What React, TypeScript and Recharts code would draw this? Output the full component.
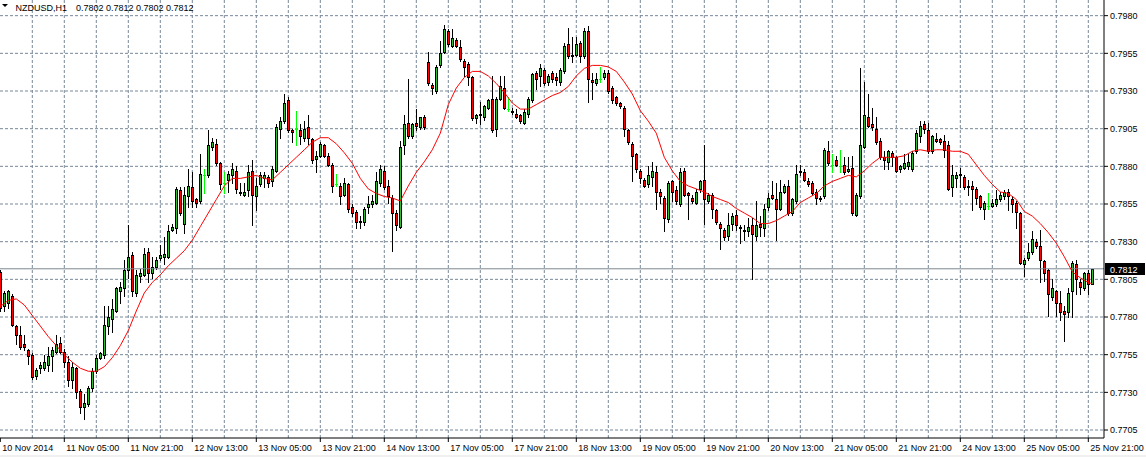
import React from "react";
import {
  ComposedChart,
  Bar,
  Line,
  XAxis,
  YAxis,
  CartesianGrid,
  ReferenceLine,
} from "recharts";

const SYMBOL = "NZDUSD,H1";

// hourly bars, 10 Nov 13:00 -> 25 Nov 22:00 (server time), 10 per row
const opens = [
  0.7810, 0.7787, 0.7789, 0.7794, 0.7774, 0.7768, 0.7762, 0.7758, 0.7755, 0.7741,
  0.7746, 0.7746, 0.7748, 0.7754, 0.7757, 0.7763, 0.7757, 0.7750, 0.7738, 0.7746,
  0.7731, 0.7720, 0.7722, 0.7733, 0.7744, 0.7753, 0.7755, 0.7774, 0.7779, 0.7784,
  0.7797, 0.7799, 0.7811, 0.7821, 0.7796, 0.7807, 0.7808, 0.7823, 0.7809, 0.7813,
  0.7819, 0.7820, 0.7820, 0.7838, 0.7839, 0.7864, 0.7842, 0.7860, 0.7866, 0.7858,
  0.7857, 0.7874, 0.7874, 0.7893, 0.7895, 0.7882, 0.7869, 0.7871, 0.7874, 0.7877,
  0.7863, 0.7861, 0.7864, 0.7877, 0.7860, 0.7868, 0.7872, 0.7873, 0.7870, 0.7877,
  0.7905, 0.7910, 0.7924, 0.7904, 0.7905, 0.7904, 0.7899, 0.7906, 0.7898, 0.7885,
  0.7887, 0.7894, 0.7887, 0.7881, 0.7868, 0.7867, 0.7861, 0.7868, 0.7853, 0.7850,
  0.7843, 0.7843, 0.7853, 0.7855, 0.7856, 0.7869, 0.7877, 0.7867, 0.7859, 0.7849,
  0.7840, 0.7894, 0.7909, 0.7900, 0.7909, 0.7906, 0.7913, 0.7949, 0.7934, 0.7930,
  0.7947, 0.7956, 0.7970, 0.7960, 0.7964, 0.7959, 0.7950, 0.7948, 0.7939, 0.7912,
  0.7914, 0.7913, 0.7919, 0.7925, 0.7905, 0.7925, 0.7932, 0.7918, 0.7917, 0.7915,
  0.7914, 0.7909, 0.7915, 0.7924, 0.7942, 0.7940, 0.7944, 0.7936, 0.7942, 0.7939,
  0.7936, 0.7943, 0.7961, 0.7953, 0.7954, 0.7962, 0.7953, 0.7970, 0.7937, 0.7935,
  0.7938, 0.7939, 0.7942, 0.7932, 0.7926, 0.7922, 0.7919, 0.7904, 0.7895, 0.7888,
  0.7877, 0.7871, 0.7868, 0.7873, 0.7876, 0.7863, 0.7859, 0.7845, 0.7870, 0.7864,
  0.7855, 0.7877, 0.7862, 0.7859, 0.7856, 0.7865, 0.7871, 0.7857, 0.7861, 0.7851,
  0.7842, 0.7838, 0.7834, 0.7842, 0.7848, 0.7840, 0.7838, 0.7837, 0.7841, 0.7834,
  0.7842, 0.7839, 0.7853, 0.7861, 0.7858, 0.7852, 0.7863, 0.7867, 0.7849, 0.7857,
  0.7877, 0.7876, 0.7870, 0.7869, 0.7863, 0.7858, 0.7860, 0.7890, 0.7881, 0.7884,
  0.7880, 0.7881, 0.7877, 0.7879, 0.7848, 0.7860, 0.7893, 0.7913, 0.7908, 0.7905,
  0.7897, 0.7886, 0.7883, 0.7889, 0.7886, 0.7878, 0.7879, 0.7880, 0.7878, 0.7890,
  0.7900, 0.7908, 0.7904, 0.7890, 0.7898, 0.7898, 0.7897, 0.7894, 0.7866, 0.7872,
  0.7875, 0.7873, 0.7867, 0.7867, 0.7865, 0.7860, 0.7852, 0.7854, 0.7854, 0.7855,
  0.7858, 0.7860, 0.7863, 0.7858, 0.7856, 0.7849, 0.7815, 0.7819, 0.7823, 0.7830,
  0.7827, 0.7817, 0.7811, 0.7793, 0.7797, 0.7789, 0.7784, 0.7783, 0.7797, 0.7815,
  0.7803, 0.7799, 0.7809, 0.7802,
];

const highs = [
  0.7811, 0.7797, 0.7798, 0.7795, 0.7775, 0.7774, 0.7768, 0.7759, 0.7756, 0.7746,
  0.7750, 0.7755, 0.7760, 0.7760, 0.7768, 0.7767, 0.7759, 0.7754, 0.7750, 0.7747,
  0.7732, 0.7729, 0.7734, 0.7746, 0.7755, 0.7757, 0.7787, 0.7787, 0.7792, 0.7800,
  0.7803, 0.7818, 0.7841, 0.7823, 0.7811, 0.7812, 0.7826, 0.7826, 0.7820, 0.7820,
  0.7828, 0.7833, 0.7841, 0.7842, 0.7866, 0.7866, 0.7866, 0.7878, 0.7876, 0.7859,
  0.7888, 0.7878, 0.7904, 0.7899, 0.7898, 0.7883, 0.7876, 0.7877, 0.7882, 0.7880,
  0.7869, 0.7869, 0.7881, 0.7884, 0.7872, 0.7876, 0.7876, 0.7874, 0.7880, 0.7908,
  0.7913, 0.7928, 0.7926, 0.7905, 0.7917, 0.7908, 0.7910, 0.7914, 0.7899, 0.7890,
  0.7896, 0.7895, 0.7889, 0.7882, 0.7875, 0.7869, 0.7872, 0.7869, 0.7855, 0.7851,
  0.7847, 0.7853, 0.7860, 0.7861, 0.7876, 0.7881, 0.7880, 0.7871, 0.7861, 0.7851,
  0.7897, 0.7914, 0.7938, 0.7909, 0.7918, 0.7913, 0.7914, 0.7956, 0.7935, 0.7947,
  0.7963, 0.7974, 0.7971, 0.7971, 0.7965, 0.7964, 0.7951, 0.7949, 0.7940, 0.7915,
  0.7923, 0.7921, 0.7925, 0.7940, 0.7926, 0.7940, 0.7940, 0.7926, 0.7919, 0.7918,
  0.7915, 0.7918, 0.7926, 0.7942, 0.7943, 0.7948, 0.7945, 0.7941, 0.7943, 0.7942,
  0.7945, 0.7962, 0.7972, 0.7966, 0.7966, 0.7963, 0.7972, 0.7973, 0.7942, 0.7942,
  0.7946, 0.7944, 0.7944, 0.7933, 0.7927, 0.7923, 0.7920, 0.7905, 0.7896, 0.7889,
  0.7878, 0.7872, 0.7880, 0.7883, 0.7880, 0.7865, 0.7860, 0.7870, 0.7871, 0.7867,
  0.7879, 0.7879, 0.7863, 0.7861, 0.7865, 0.7871, 0.7894, 0.7862, 0.7862, 0.7852,
  0.7843, 0.7839, 0.7849, 0.7849, 0.7851, 0.7841, 0.7841, 0.7846, 0.7846, 0.7857,
  0.7847, 0.7855, 0.7862, 0.7870, 0.7869, 0.7871, 0.7868, 0.7871, 0.7859, 0.7881,
  0.7881, 0.7878, 0.7872, 0.7870, 0.7865, 0.7860, 0.7892, 0.7897, 0.7888, 0.7887,
  0.7891, 0.7886, 0.7886, 0.7887, 0.7862, 0.7945, 0.7936, 0.7928, 0.7919, 0.7913,
  0.7899, 0.7890, 0.7891, 0.7890, 0.7887, 0.7881, 0.7888, 0.7888, 0.7890, 0.7904,
  0.7910, 0.7910, 0.7909, 0.7901, 0.7902, 0.7899, 0.7901, 0.7897, 0.7881, 0.7876,
  0.7879, 0.7874, 0.7871, 0.7870, 0.7866, 0.7861, 0.7857, 0.7862, 0.7858, 0.7864,
  0.7863, 0.7864, 0.7865, 0.7860, 0.7857, 0.7850, 0.7819, 0.7829, 0.7837, 0.7832,
  0.7838, 0.7818, 0.7812, 0.7805, 0.7798, 0.7797, 0.7787, 0.7799, 0.7817, 0.7818,
  0.7805, 0.7810, 0.7811, 0.7812,
];

const lows = [
  0.7784, 0.7784, 0.7786, 0.7774, 0.7762, 0.7759, 0.7758, 0.7749, 0.7739, 0.7739,
  0.7743, 0.7745, 0.7744, 0.7744, 0.7756, 0.7756, 0.7747, 0.7734, 0.7733, 0.7726,
  0.7716, 0.7712, 0.7721, 0.7731, 0.7743, 0.7752, 0.7753, 0.7769, 0.7770, 0.7783,
  0.7789, 0.7794, 0.7806, 0.7794, 0.7794, 0.7803, 0.7807, 0.7803, 0.7806, 0.7812,
  0.7818, 0.7815, 0.7819, 0.7837, 0.7836, 0.7848, 0.7836, 0.7853, 0.7853, 0.7853,
  0.7856, 0.7862, 0.7873, 0.7891, 0.7881, 0.7865, 0.7862, 0.7863, 0.7869, 0.7862,
  0.7861, 0.7860, 0.7860, 0.7841, 0.7851, 0.7867, 0.7866, 0.7866, 0.7867, 0.7876,
  0.7899, 0.7909, 0.7903, 0.7896, 0.7894, 0.7895, 0.7897, 0.7895, 0.7882, 0.7876,
  0.7886, 0.7886, 0.7880, 0.7863, 0.7867, 0.7855, 0.7860, 0.7850, 0.7847, 0.7839,
  0.7839, 0.7841, 0.7849, 0.7853, 0.7855, 0.7867, 0.7865, 0.7856, 0.7824, 0.7838,
  0.7839, 0.7888, 0.7899, 0.7899, 0.7904, 0.7905, 0.7905, 0.7934, 0.7928, 0.7929,
  0.7946, 0.7955, 0.7960, 0.7959, 0.7959, 0.7950, 0.7940, 0.7934, 0.7911, 0.7909,
  0.7908, 0.7911, 0.7918, 0.7903, 0.7900, 0.7924, 0.7918, 0.7917, 0.7915, 0.7912,
  0.7909, 0.7908, 0.7913, 0.7923, 0.7931, 0.7933, 0.7934, 0.7934, 0.7936, 0.7934,
  0.7934, 0.7942, 0.7952, 0.7949, 0.7953, 0.7949, 0.7952, 0.7923, 0.7925, 0.7934,
  0.7936, 0.7938, 0.7929, 0.7922, 0.7921, 0.7919, 0.7900, 0.7895, 0.7870, 0.7876,
  0.7869, 0.7866, 0.7866, 0.7867, 0.7852, 0.7856, 0.7837, 0.7843, 0.7857, 0.7855,
  0.7854, 0.7860, 0.7845, 0.7856, 0.7855, 0.7863, 0.7842, 0.7856, 0.7846, 0.7842,
  0.7825, 0.7831, 0.7831, 0.7838, 0.7838, 0.7829, 0.7831, 0.7834, 0.7805, 0.7831,
  0.7834, 0.7834, 0.7851, 0.7858, 0.7831, 0.7851, 0.7862, 0.7848, 0.7848, 0.7856,
  0.7874, 0.7870, 0.7867, 0.7861, 0.7855, 0.7857, 0.7859, 0.7881, 0.7876, 0.7880,
  0.7876, 0.7875, 0.7876, 0.7848, 0.7847, 0.7859, 0.7892, 0.7906, 0.7904, 0.7895,
  0.7885, 0.7878, 0.7878, 0.7880, 0.7876, 0.7876, 0.7878, 0.7878, 0.7877, 0.7889,
  0.7896, 0.7902, 0.7889, 0.7889, 0.7896, 0.7895, 0.7886, 0.7864, 0.7860, 0.7866,
  0.7866, 0.7865, 0.7861, 0.7851, 0.7855, 0.7852, 0.7845, 0.7852, 0.7853, 0.7854,
  0.7857, 0.7858, 0.7851, 0.7850, 0.7839, 0.7815, 0.7807, 0.7818, 0.7822, 0.7826,
  0.7803, 0.7804, 0.7781, 0.7791, 0.7781, 0.7778, 0.7764, 0.7780, 0.7780, 0.7795,
  0.7795, 0.7798, 0.7795, 0.7802,
];

const closes = [
  0.7786, 0.7796, 0.7797, 0.7775, 0.7768, 0.7760, 0.7760, 0.7754, 0.7740, 0.7745,
  0.7748, 0.7750, 0.7754, 0.7758, 0.7762, 0.7757, 0.7750, 0.7738, 0.7747, 0.7730,
  0.7720, 0.7723, 0.7733, 0.7744, 0.7753, 0.7756, 0.7775, 0.7780, 0.7785, 0.7799,
  0.7800, 0.7811, 0.7820, 0.7797, 0.7808, 0.7809, 0.7822, 0.7809, 0.7813, 0.7818,
  0.7821, 0.7822, 0.7837, 0.7840, 0.7865, 0.7849, 0.7861, 0.7867, 0.7857, 0.7856,
  0.7875, 0.7874, 0.7894, 0.7896, 0.7882, 0.7868, 0.7869, 0.7875, 0.7878, 0.7865,
  0.7862, 0.7863, 0.7876, 0.7861, 0.7867, 0.7874, 0.7874, 0.7869, 0.7878, 0.7906,
  0.7910, 0.7922, 0.7904, 0.7903, 0.7905, 0.7900, 0.7905, 0.7899, 0.7884, 0.7887,
  0.7895, 0.7887, 0.7881, 0.7867, 0.7868, 0.7860, 0.7869, 0.7852, 0.7849, 0.7843,
  0.7844, 0.7852, 0.7855, 0.7857, 0.7870, 0.7878, 0.7866, 0.7860, 0.7849, 0.7841,
  0.7893, 0.7908, 0.7900, 0.7908, 0.7907, 0.7913, 0.7906, 0.7935, 0.7932, 0.7946,
  0.7955, 0.7971, 0.7961, 0.7965, 0.7960, 0.7951, 0.7946, 0.7939, 0.7912, 0.7914,
  0.7915, 0.7920, 0.7924, 0.7904, 0.7925, 0.7933, 0.7919, 0.7918, 0.7916, 0.7913,
  0.7910, 0.7916, 0.7925, 0.7941, 0.7938, 0.7945, 0.7935, 0.7940, 0.7938, 0.7937,
  0.7944, 0.7960, 0.7953, 0.7954, 0.7961, 0.7953, 0.7970, 0.7938, 0.7936, 0.7938,
  0.7938, 0.7942, 0.7930, 0.7924, 0.7922, 0.7920, 0.7905, 0.7896, 0.7887, 0.7878,
  0.7872, 0.7867, 0.7874, 0.7877, 0.7863, 0.7860, 0.7846, 0.7869, 0.7863, 0.7857,
  0.7876, 0.7861, 0.7861, 0.7857, 0.7863, 0.7870, 0.7858, 0.7861, 0.7852, 0.7843,
  0.7839, 0.7833, 0.7841, 0.7847, 0.7841, 0.7839, 0.7837, 0.7840, 0.7835, 0.7841,
  0.7840, 0.7852, 0.7859, 0.7859, 0.7852, 0.7863, 0.7867, 0.7849, 0.7858, 0.7875,
  0.7876, 0.7871, 0.7868, 0.7862, 0.7859, 0.7859, 0.7891, 0.7882, 0.7881, 0.7881,
  0.7880, 0.7876, 0.7878, 0.7849, 0.7861, 0.7894, 0.7914, 0.7907, 0.7906, 0.7896,
  0.7886, 0.7884, 0.7890, 0.7886, 0.7877, 0.7880, 0.7882, 0.7883, 0.7889, 0.7902,
  0.7907, 0.7905, 0.7890, 0.7900, 0.7897, 0.7896, 0.7891, 0.7865, 0.7874, 0.7874,
  0.7874, 0.7866, 0.7866, 0.7865, 0.7859, 0.7853, 0.7856, 0.7854, 0.7856, 0.7858,
  0.7861, 0.7863, 0.7860, 0.7855, 0.7850, 0.7816, 0.7818, 0.7823, 0.7832, 0.7827,
  0.7818, 0.7809, 0.7795, 0.7799, 0.7789, 0.7783, 0.7782, 0.7796, 0.7816, 0.7805,
  0.7800, 0.7809, 0.7802, 0.7812,
];

// red moving average as drawn, read every second bar
const maBars = [
  0, 2, 4, 6, 8, 10, 12, 14, 16, 18, 20, 22, 24, 26, 28, 30, 32, 34, 36, 38,
  40, 42, 44, 46, 48, 50, 52, 54, 56, 58, 60, 62, 64, 66, 68, 70, 72, 74, 76, 78,
  80, 82, 84, 86, 88, 90, 92, 94, 96, 98, 100, 102, 104, 106, 108, 110, 112, 114, 116, 118,
  120, 122, 124, 126, 128, 130, 132, 134, 136, 138, 140, 142, 144, 146, 148, 150, 152, 154, 156, 158,
  160, 162, 164, 166, 168, 170, 172, 174, 176, 178, 180, 182, 184, 186, 188, 190, 192, 194, 196, 198,
  200, 202, 204, 206, 208, 210, 212, 214, 216, 218, 220, 222, 224, 226, 228, 230, 232, 234, 236, 238,
  240, 242, 244, 246, 248, 250, 252, 254, 256, 258, 260, 262, 264, 266, 268, 270, 272, 273,
];
const maValues = [
  0.7787, 0.7791, 0.7792, 0.7788, 0.7781, 0.7774, 0.7767, 0.7761, 0.7755, 0.7750,
  0.7746, 0.7744, 0.7744, 0.7747, 0.7753, 0.7761, 0.7771, 0.7784, 0.7796, 0.7803,
  0.7808, 0.7814, 0.7819, 0.7824, 0.7831, 0.7840, 0.7849, 0.7858, 0.7867, 0.7872,
  0.7872, 0.7873, 0.7874, 0.7872, 0.7871, 0.7876, 0.7881, 0.7886, 0.7891, 0.7896,
  0.7899, 0.7899, 0.7895, 0.7889, 0.7882, 0.7872, 0.7865, 0.7862, 0.7860, 0.7859,
  0.7857, 0.7867, 0.7876, 0.7883, 0.7891, 0.7902, 0.7921, 0.7932, 0.7939, 0.7943,
  0.7943, 0.7940, 0.7935, 0.7929, 0.7922, 0.7918, 0.7918, 0.7921, 0.7924, 0.7927,
  0.7929, 0.7933, 0.7940, 0.7945, 0.7947, 0.7947, 0.7946, 0.7943, 0.7936, 0.7928,
  0.7917, 0.7910, 0.7902, 0.7886, 0.7877, 0.7870, 0.7867, 0.7865, 0.7863, 0.7860,
  0.7858, 0.7856, 0.7852, 0.7849, 0.7846, 0.7842, 0.7842, 0.7844, 0.7847, 0.7850,
  0.7856, 0.7859, 0.7862, 0.7867, 0.7870, 0.7872, 0.7874, 0.7873, 0.7877, 0.7882,
  0.7886, 0.7886, 0.7886, 0.7887, 0.7890, 0.7891, 0.7890, 0.7891, 0.7891, 0.7890,
  0.7890, 0.7888, 0.7881, 0.7874, 0.7868, 0.7863, 0.7862, 0.7858, 0.7850, 0.7847,
  0.7842, 0.7836, 0.7829, 0.7820, 0.7810, 0.7806, 0.7803, 0.7802,
];

const priceTicks = [
  0.7705, 0.773, 0.7755, 0.778, 0.7805, 0.783, 0.7855, 0.788, 0.7905, 0.793,
  0.7955, 0.798,
];

const timeTickBars = [
  0, 16, 32, 48, 64, 80, 96, 112, 128, 144, 160, 176, 192, 208, 224, 240, 256, 272,
];
const timeLabels = [
  "10 Nov 2014", "11 Nov 05:00", "11 Nov 21:00", "12 Nov 13:00", "13 Nov 05:00",
  "13 Nov 21:00", "14 Nov 13:00", "17 Nov 05:00", "17 Nov 21:00", "18 Nov 13:00",
  "19 Nov 05:00", "19 Nov 21:00", "20 Nov 13:00", "21 Nov 05:00", "21 Nov 21:00",
  "24 Nov 13:00", "25 Nov 05:00", "25 Nov 21:00",
];

const W = 1146;
const H = 457;
const AXIS_W = 42;
const AXIS_H = 19;
const FONT = "'Liberation Sans', Arial, sans-serif";
const GRID = "#778899";
const BULL = "#2fbf2f";
const BEAR = "#ff0000";
const DOJI = "#00ff00";

const maByBar = new Map(maBars.map((b, k) => [b, maValues[k]]));

const rows = opens.map((o, i) => ({
  i,
  o,
  h: highs[i],
  l: lows[i],
  c: closes[i],
  ma: maByBar.get(i),
}));

const last = rows[rows.length - 1];
const gridBars = Array.from({ length: 34 }, (_, k) => 8 * (k + 1));

function Candle(props: any) {
  const { x, y, width, height, payload } = props;
  if (!payload || x == null) return null;
  const { o, h, l, c } = payload;
  const top = Math.min(y, y + height);
  const span = Math.abs(height);
  const toY = (p: number) => (h === l ? top : top + ((h - p) / (h - l)) * span);
  const cx = Math.round(x + width / 2) + 0.5;
  const yHigh = Math.round(top);
  const yLow = Math.round(top + span) + 1;

  if (o === c) {
    // open == close: drawn as a lime cross
    const yo = Math.round(toY(o)) + 0.5;
    return (
      <g shapeRendering="crispEdges">
        <line x1={cx} x2={cx} y1={yHigh} y2={yLow} stroke={DOJI} />
        <line x1={cx - 1.5} x2={cx + 1.5} y1={yo} y2={yo} stroke={DOJI} />
      </g>
    );
  }

  const bTop = Math.round(toY(Math.max(o, c)));
  const bBot = Math.round(toY(Math.min(o, c)));
  return (
    <g shapeRendering="crispEdges">
      <line x1={cx} x2={cx} y1={yHigh} y2={yLow} stroke="#000" />
      <rect
        x={cx - 1}
        y={bTop + 0.5}
        width={2}
        height={Math.max(1, bBot - bTop)}
        fill={c > o ? BULL : BEAR}
        stroke="#000"
      />
    </g>
  );
}

function TimeTick(props: any) {
  const { x, y, payload } = props;
  const idx = timeTickBars.indexOf(payload.value);
  return (
    <text x={x + 2} y={y + 7} fontSize={9} fontFamily={FONT} fill="#000" textAnchor="start">
      {timeLabels[idx]}
    </text>
  );
}

export default function App() {
  const fmt = (v: number) => v.toFixed(4);
  const plotRight = W - AXIS_W;

  return (
    <div style={{ position: "absolute", left: 0, top: 0, width: W, height: H, background: "#fff" }}>
      <ComposedChart
        width={W}
        height={H}
        data={rows}
        margin={{ top: 0, right: 0, bottom: 0, left: 0 }}
      >
        <CartesianGrid
          stroke={GRID}
          strokeDasharray="3 2"
          verticalValues={gridBars}
          horizontalValues={priceTicks}
        />
        <XAxis
          dataKey="i"
          type="number"
          domain={[-0.075, 275.925]}
          allowDataOverflow
          ticks={timeTickBars}
          interval={0}
          height={AXIS_H}
          tickSize={4}
          axisLine={{ stroke: "#000" }}
          tickLine={{ stroke: "#000" }}
          tick={<TimeTick />}
        />
        <YAxis
          orientation="right"
          type="number"
          domain={[0.76997, 0.79904]}
          allowDataOverflow
          ticks={priceTicks}
          interval={0}
          width={AXIS_W}
          tickSize={4}
          tickMargin={2}
          tickFormatter={fmt}
          axisLine={{ stroke: "#000" }}
          tickLine={{ stroke: "#000" }}
          tick={{ fontSize: 9, fontFamily: FONT, fill: "#000" }}
        />
        <ReferenceLine y={last.c} stroke="#7d8793" strokeWidth={1} />
        <Bar
          dataKey={(d: any) => [d.l, d.h]}
          barSize={3}
          shape={<Candle />}
          isAnimationActive={false}
        />
        <Line
          dataKey="ma"
          type="linear"
          stroke="#ff0000"
          strokeWidth={1}
          dot={false}
          activeDot={false}
          connectNulls
          isAnimationActive={false}
        />
      </ComposedChart>

      <svg
        width={W}
        height={H}
        style={{ position: "absolute", left: 0, top: 0, pointerEvents: "none" }}
      >
        <polygon points="2,4 8,4 5,7" fill="#000" />
        <text x={15.5} y={10.5} fontSize={9} fontFamily={FONT} fill="#000">
          {SYMBOL}
        </text>
        <text x={76} y={10.5} fontSize={9} fontFamily={FONT} fill="#000">
          {[last.o, last.h, last.l, last.c].map(fmt).join(" ")}
        </text>
        <rect x={plotRight + 1} y={263} width={40} height={12} fill="#000" />
        <text x={plotRight + 6} y={272.5} fontSize={9} fontFamily={FONT} fill="#fff">
          {fmt(last.c)}
        </text>
        <rect x={0} y={455} width={W} height={2} fill="#f0f0f0" />
      </svg>
    </div>
  );
}
